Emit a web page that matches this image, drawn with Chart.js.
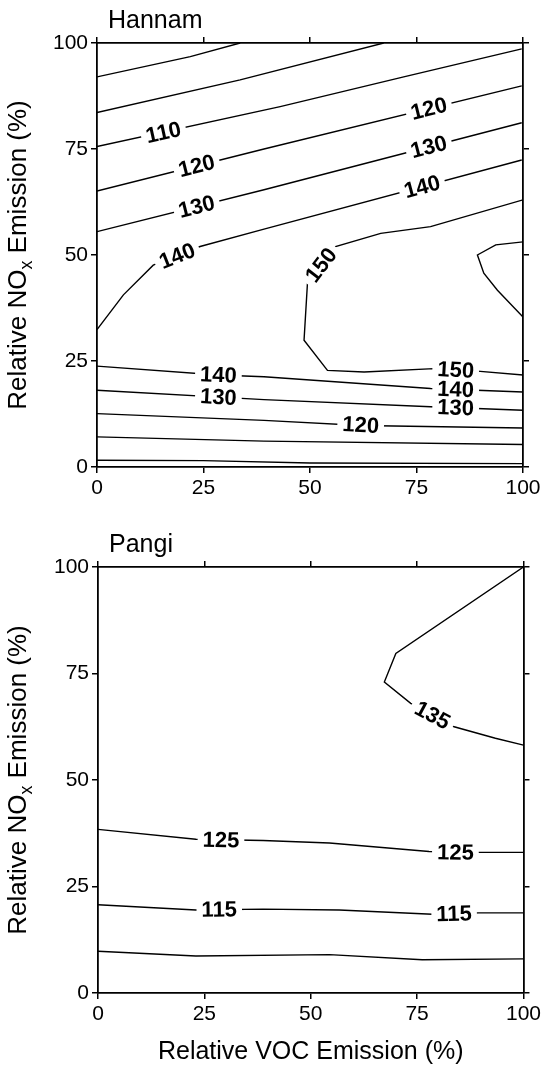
<!DOCTYPE html>
<html lang="en">
<head>
    <meta charset="UTF-8">
    <title>Hannam / Pangi ozone isopleths</title>
    <script src="https://cdn.jsdelivr.net/npm/chart.js"></script>
    <style>
        body {
            margin: 0;
            background: #fff;
            font-family: Arial, "Liberation Sans", sans-serif;
        }
        .panel {
            position: absolute;
            left: 0;
            width: 544px;
        }
        #topPanel { top: 0; height: 510px; }
        #bottomPanel { top: 510px; height: 558px; }
    </style>
</head>
<body>
    <div class="panel" id="topPanel"><canvas id="hannam"></canvas></div>
    <div class="panel" id="bottomPanel"><canvas id="pangi"></canvas></div>

    <script>
        // axis ticks (relative emission, %)
        const axisTicks = [0, 25, 50, 75, 100];

        // Hannam contours: [VOC %, NOx %]
        const hannam90 = [[0, 92.0], [21.9, 96.8], [33.6, 100]];
        const hannam100 = [[0, 83.6], [33.6, 91.3], [67.3, 100]];
        const hannam110 = [[0, 75.6], [43, 85.0], [72, 92.0], [99.7, 98.6]];
        const hannam120 = [[0, 65.1], [39.2, 75.0], [99.7, 89.9]];
        const hannam130 = [[0, 55.5], [39.2, 65.4], [99.7, 81.2]];
        const hannam140 = [[0, 32.4], [6.2, 40.6], [13.2, 47.6], [24.2, 52.0], [39.2, 56.1], [99.7, 72.4]];
        const hannam150 = [[100, 63.0], [78.3, 56.7], [66.6, 55.1], [56, 52.0], [49.4, 43.3], [48.6, 29.9],
                           [54.1, 22.8], [62.7, 22.4], [79.1, 23.2], [89.3, 22.6], [100, 21.7]];
        const hannam160 = [[100, 53.1], [93.6, 52.4], [89.3, 50.0], [90.8, 45.7], [94, 41.7], [100, 35.4]];
        const hannam140low = [[0, 23.8], [28.4, 21.7], [39.2, 21.3], [78.3, 18.5], [100, 17.7]];
        const hannam130low = [[0, 18.1], [39.2, 15.9], [78.3, 14.2], [100, 13.4]];
        const hannam120low = [[0, 12.6], [39.2, 11.0], [62, 9.8], [100, 9.2]];
        const hannam110low = [[0, 7.1], [39.2, 6.1], [100, 5.3]];
        const hannam100low = [[0, 1.6], [25, 1.5], [50, 0.95], [100, 0.8]];

        // Hannam contour labels: text, VOC, NOx, contour
        const hannamLabels = [
            ['110', 15.6, 78.9, hannam110],
            ['120', 23.4, 71.0, hannam120],
            ['130', 23.4, 61.4, hannam130],
            ['140', 18.8, 49.8, hannam140],
            ['120', 77.9, 84.5, hannam120],
            ['130', 77.9, 75.5, hannam130],
            ['140', 76.3, 66.1, hannam140],
            ['150', 52.6, 47.6, hannam150],
            ['150', 84.2, 22.9, hannam150],
            ['140', 28.5, 21.7, hannam140low],
            ['140', 84.2, 18.3, hannam140low],
            ['130', 28.5, 16.5, hannam130low],
            ['130', 84.2, 14.0, hannam130low],
            ['120', 61.9, 9.9, hannam120low]
        ];

        // Pangi contours
        const pangi135 = [[100, 100], [70, 79.7], [67.3, 73.0], [73.5, 68.0], [83.7, 62.5], [93.4, 59.8], [100, 58.2]];
        const pangi125 = [[0, 38.4], [23, 36.1], [38.8, 35.8], [54.4, 35.2], [77.8, 33.2], [89.5, 33.0], [100, 33.0]];
        const pangi115 = [[0, 20.7], [23, 19.5], [38.8, 19.7], [56.7, 19.5], [78.6, 18.5], [89.5, 18.8], [100, 18.8]];
        const pangi105 = [[0, 9.8], [23, 8.7], [54.4, 9.0], [76.2, 7.8], [100, 8.0]];

        const pangiLabels = [
            ['135', 78.6, 65.2, pangi135],
            ['125', 28.9, 35.9, pangi125],
            ['125', 84.0, 33.0, pangi125],
            ['115', 28.5, 19.6, pangi115],
            ['115', 83.7, 18.6, pangi115]
        ];

        const FAMILY = 'Arial, "Liberation Sans", sans-serif';
        Chart.defaults.font.family = FAMILY;
        Chart.defaults.color = '#000';

        function distToSeg(px, py, ax, ay, bx, by) {
            const dx = bx - ax, dy = by - ay;
            const len = dx * dx + dy * dy || 1;
            let t = ((px - ax) * dx + (py - ay) * dy) / len;
            t = Math.max(0, Math.min(1, t));
            const cx = ax + t * dx, cy = ay + t * dy;
            return Math.hypot(px - cx, py - cy);
        }

        // NOx axis title with the subscript x
        function drawNoxTitle(ctx, cx, cy, size) {
            const parts = [
                { t: 'Relative NO', f: size + 'px ' + FAMILY, dy: 0 },
                { t: 'x', f: Math.round(size * 0.7) + 'px ' + FAMILY, dy: size * 0.3 },
                { t: ' Emission (%)', f: size + 'px ' + FAMILY, dy: 0 }
            ];
            ctx.save();
            ctx.translate(cx, cy);
            ctx.rotate(-Math.PI / 2);
            let total = 0;
            parts.forEach(p => { ctx.font = p.f; p.w = ctx.measureText(p.t).width; total += p.w; });
            let x = -total / 2;
            ctx.textAlign = 'left';
            ctx.textBaseline = 'middle';
            ctx.fillStyle = '#000';
            parts.forEach(p => { ctx.font = p.f; ctx.fillText(p.t, x, p.dy); x += p.w; });
            ctx.restore();
        }

        // draws the panel title, axis titles and the inline contour labels
        const contourText = {
            id: 'contourText',
            afterDatasetsDraw(chart, args, opts) {
                const { ctx, chartArea, scales: { x, y } } = chart;

                ctx.save();
                ctx.font = 'bold 22px ' + FAMILY;
                ctx.textAlign = 'center';
                ctx.textBaseline = 'middle';
                opts.labels.forEach(([text, vx, vy, line]) => {
                    const px = x.getPixelForValue(vx), py = y.getPixelForValue(vy);
                    let best = Infinity, ang = 0;
                    for (let i = 0; i < line.length - 1; i++) {
                        const ax = x.getPixelForValue(line[i][0]), ay = y.getPixelForValue(line[i][1]);
                        const bx = x.getPixelForValue(line[i + 1][0]), by = y.getPixelForValue(line[i + 1][1]);
                        const d = distToSeg(px, py, ax, ay, bx, by);
                        if (d < best) {
                            best = d;
                            let dx = bx - ax, dy = by - ay;
                            if (dx < 0) { dx = -dx; dy = -dy; }
                            ang = Math.atan2(dy, dx);
                        }
                    }
                    const w = ctx.measureText(text).width;
                    ctx.save();
                    ctx.translate(px, py);
                    ctx.rotate(ang);
                    ctx.fillStyle = '#fff';
                    ctx.fillRect(-w / 2 - 5, -8, w + 10, 16);
                    ctx.fillStyle = '#000';
                    ctx.fillText(text, 0, 1);
                    ctx.restore();
                });

                // panel title
                ctx.font = '25px ' + FAMILY;
                ctx.textAlign = 'left';
                ctx.fillStyle = '#000';
                ctx.fillText(opts.title, chartArea.left + 11, chartArea.top - 22);

                // axis titles
                drawNoxTitle(ctx, 19, (chartArea.top + chartArea.bottom) / 2, 26);
                if (opts.xTitle) {
                    ctx.font = '25px ' + FAMILY;
                    ctx.textAlign = 'center';
                    ctx.fillText(opts.xTitle, (chartArea.left + chartArea.right) / 2, chartArea.bottom + 59);
                }
                ctx.restore();
            }
        };

        function makeAxis(position, showLabels, size) {
            const horizontal = position === 'top' || position === 'bottom';
            return {
                type: 'linear',
                position: position,
                min: 0,
                max: 100,
                ticks: {
                    stepSize: 25,
                    padding: 3,
                    maxRotation: 0,
                    font: { size: 21 },
                    color: '#000',
                    callback: v => showLabels ? v : ''
                },
                grid: {
                    drawOnChartArea: false,
                    drawTicks: true,
                    tickLength: 6,
                    color: '#000',
                    lineWidth: 1.5
                },
                border: { display: true, color: '#000', width: 1.8 },
                afterBuildTicks: s => { s.ticks = axisTicks.map(v => ({ value: v })); },
                afterFit: s => { if (horizontal) s.height = size; else s.width = size; }
            };
        }

        function renderPanel(canvasId, contours, labels, title, xTitle, sizes) {
            const ctx = document.getElementById(canvasId).getContext('2d');
            return new Chart(ctx, {
                type: 'scatter',
                data: {
                    datasets: contours.map(c => ({
                        data: c,
                        showLine: true,
                        pointRadius: 0,
                        borderColor: '#000',
                        borderWidth: 1.4,
                        tension: 0,
                        fill: false
                    }))
                },
                options: {
                    responsive: true,
                    maintainAspectRatio: false,
                    animation: false,
                    devicePixelRatio: 1,
                    events: [],
                    layout: { padding: 0 },
                    plugins: {
                        legend: { display: false },
                        tooltip: { enabled: false },
                        contourText: { labels: labels, title: title, xTitle: xTitle }
                    },
                    scales: {
                        x: makeAxis('bottom', true, sizes.bottom),
                        x2: makeAxis('top', false, sizes.top),
                        y: makeAxis('left', true, sizes.left),
                        y2: makeAxis('right', false, sizes.right)
                    }
                },
                plugins: [contourText]
            });
        }

        renderPanel('hannam',
            [hannam90, hannam100, hannam110, hannam120, hannam130, hannam140, hannam150, hannam160,
             hannam140low, hannam130low, hannam120low, hannam110low, hannam100low],
            hannamLabels, 'Hannam', null,
            { left: 97, right: 21, top: 43, bottom: 43 });

        renderPanel('pangi',
            [pangi135, pangi125, pangi115, pangi105],
            pangiLabels, 'Pangi', 'Relative VOC Emission (%)',
            { left: 98, right: 18, top: 57, bottom: 75 });
    </script>
</body>
</html>
